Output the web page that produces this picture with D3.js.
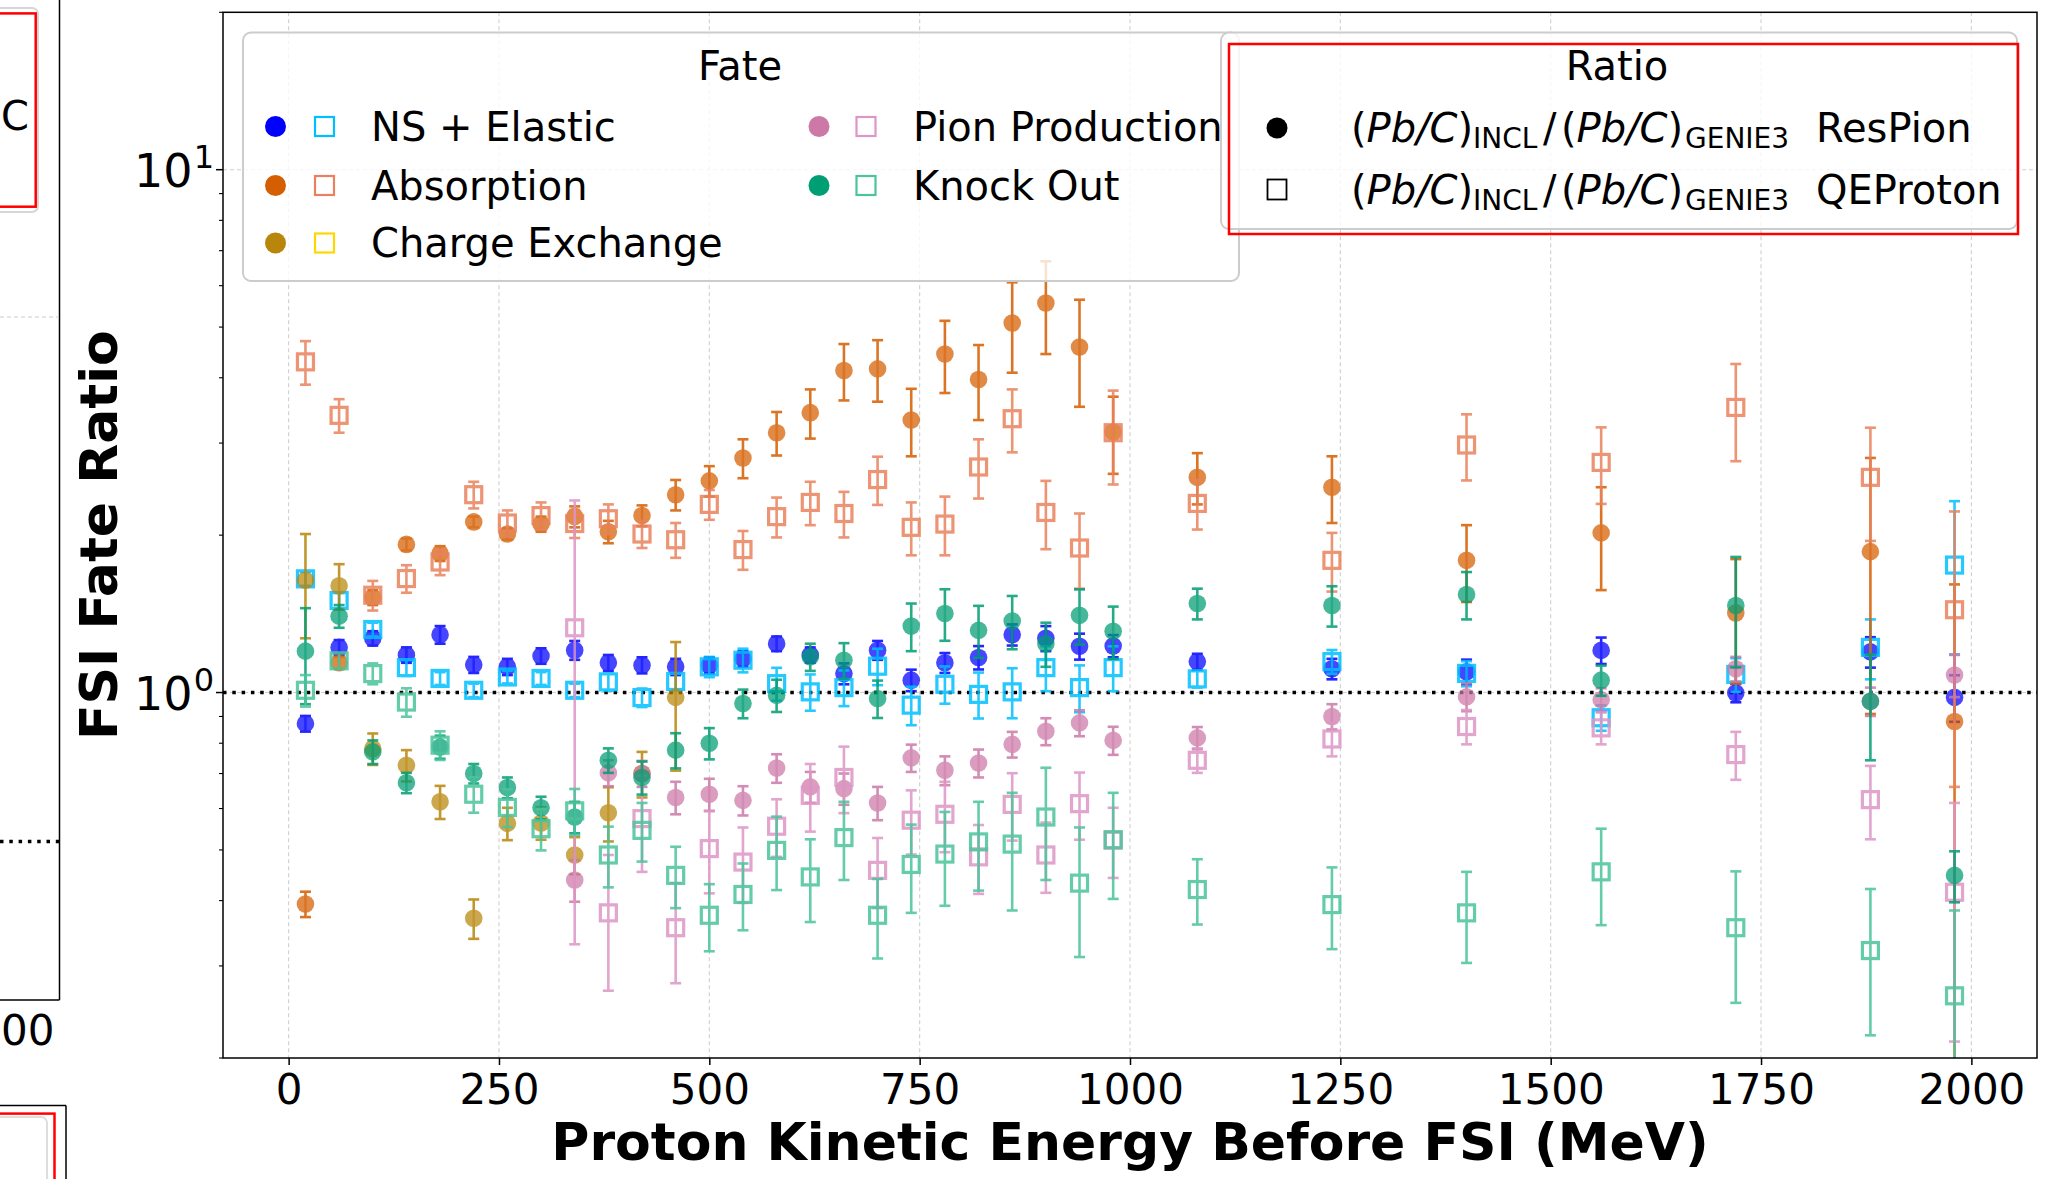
<!DOCTYPE html>
<html>
<head>
<meta charset="utf-8">
<script src="https://cdn.jsdelivr.net/npm/d3@7"></script>
<style>
  html, body { margin: 0; padding: 0; background: #ffffff; }
  svg { display: block; font-family: "DejaVu Sans", sans-serif; }
</style>
</head>
<body>
<svg id="chart" width="2060" height="1179"></svg>
<script>
// Bin centres of the proton kinetic energy before FSI (MeV)
const energy = [20, 60, 100, 140, 180, 220, 260, 300, 340, 380, 420, 460, 500, 540, 580, 620, 660,
                700, 740, 780, 820, 860, 900, 940, 980, 1080, 1240, 1400, 1560, 1720, 1880, 1980];

// (Pb/C)_INCL / (Pb/C)_GENIE3 ratios, ResPion sample (filled circles)
const nsResPion = [0.872, 1.22, 1.27, 1.18, 1.29, 1.13, 1.12, 1.175, 1.205, 1.14, 1.128, 1.12, 1.128, 1.16, 1.24, 1.18, 1.087,
                   1.205, 1.056, 1.14, 1.167, 1.29, 1.27, 1.226, 1.228, 1.146, 1.11, 1.096, 1.204, 0.998, 1.196, 0.979];
const nsResPionErr = [0.03, 0.04, 0.04, 0.04, 0.05, 0.04, 0.04, 0.04, 0.05, 0.04, 0.04, 0.04, 0.04, 0.04, 0.04, 0.04, 0.05,
                      0.05, 0.05, 0.05, 0.06, 0.06, 0.07, 0.07, 0.06, 0.04, 0.05, 0.06, 0.07, 0.04, 0.08, 0.1];
const absResPion = [0.394, 1.14, 1.52, 1.92, 1.845, 2.12, 2.01, 2.10, 2.17, 2.03, 2.18, 2.39, 2.54, 2.81, 3.14, 3.43, 4.13,
                    4.16, 3.32, 4.44, 3.97, 5.09, 5.56, 4.58, 3.15, 2.58, 2.47, 1.79, 2.02, 1.42, 1.86, 0.88];
const absResPionErr = [0.022, 0.03, 0.05, 0.05, 0.06, 0.05, 0.05, 0.07, 0.1, 0.1, 0.1, 0.16, 0.17, 0.24, 0.3, 0.37, 0.51,
                       0.56, 0.49, 0.7, 0.65, 1.0, 1.12, 1.06, 0.53, 0.29, 0.36, 0.3, 0.45, 0.38, 0.95, 0.73];
const cexResPion = [1.64, 1.60, 0.781, 0.726, 0.618, 0.370, 0.562, 0.563, 0.489, 0.589, 0.70, 0.979, null, null, null, null, null,
                    null, null, null, null, null, null, null, null, null, null, null, null, null, null, null];
const cexResPionErr = [0.37, 0.16, 0.054, 0.05, 0.045, 0.032, 0.04, 0.04, 0.04, 0.07, 0.07, 0.27, null, null, null, null, null,
                       null, null, null, null, null, null, null, null, null, null, null, null, null, null, null];
const pionResPion = [null, null, null, null, null, null, null, null, 0.438, 0.702, 0.70, 0.63, 0.639, 0.622, 0.717, 0.66, 0.655,
                     0.615, 0.75, 0.71, 0.733, 0.796, 0.843, 0.875, 0.81, 0.819, 0.90, 0.981, 0.969, 1.11, 0.962, 1.08];
const pionResPionErr = [null, null, null, null, null, null, null, null, 0.04, 0.04, 0.04, 0.045, 0.045, 0.04, 0.045, 0.045, 0.045,
                        0.045, 0.045, 0.045, 0.045, 0.045, 0.05, 0.05, 0.05, 0.04, 0.05, 0.06, 0.05, 0.06, 0.06, 0.1];
const koResPion = [1.20, 1.40, 0.77, 0.672, 0.787, 0.70, 0.658, 0.602, 0.578, 0.742, 0.688, 0.776, 0.80, 0.953, 0.988, 1.17, 1.153,
                   0.974, 1.34, 1.416, 1.315, 1.37, 1.24, 1.405, 1.31, 1.48, 1.467, 1.54, 1.056, 1.467, 0.962, 0.447];
const koResPionErr = [0.25, 0.07, 0.04, 0.03, 0.04, 0.03, 0.03, 0.03, 0.04, 0.04, 0.05, 0.06, 0.055, 0.06, 0.07, 0.07, 0.09,
                      0.08, 0.14, 0.16, 0.15, 0.16, 0.12, 0.17, 0.15, 0.1, 0.13, 0.16, 0.07, 0.35, 0.22, 0.05];

// Same ratio for the QEProton sample (open squares)
const nsQEProton = [1.65, 1.50, 1.32, 1.116, 1.064, 1.01, 1.071, 1.064, 1.01, 1.048, 0.978, 1.05, 1.12, 1.153, 1.04, 1.003, 1.022,
                    1.123, 0.946, 1.037, 0.992, 1.003, 1.116, 1.022, 1.116, 1.062, 1.146, 1.088, 0.895, 1.083, 1.22, 1.753];
const nsQEProtonErr = [0.05, 0.05, 0.04, 0.04, 0.03, 0.03, 0.03, 0.03, 0.03, 0.04, 0.04, 0.04, 0.05, 0.06, 0.075, 0.08, 0.08,
                       0.09, 0.08, 0.085, 0.1, 0.11, 0.11, 0.105, 0.11, 0.04, 0.06, 0.06, 0.05, 0.08, 0.16, 0.57];
const absQEProton = [4.29, 3.39, 1.535, 1.652, 1.777, 2.39, 2.11, 2.18, 2.105, 2.15, 2.01, 1.96, 2.29, 1.877, 2.17, 2.31, 2.20,
                     2.555, 2.07, 2.10, 2.70, 3.34, 2.21, 1.89, 3.14, 2.30, 1.79, 2.975, 2.755, 3.51, 2.58, 1.44];
const absQEProtonErr = [0.41, 0.25, 0.1, 0.1, 0.1, 0.14, 0.12, 0.13, 0.13, 0.14, 0.12, 0.15, 0.15, 0.16, 0.19, 0.22, 0.22,
                        0.27, 0.24, 0.27, 0.35, 0.46, 0.33, 0.31, 0.64, 0.25, 0.23, 0.43, 0.46, 0.74, 0.63, 0.78];
const cexQEProton = energy.map(() => null);
const cexQEProtonErr = energy.map(() => null);
const pionQEProton = [null, null, null, null, null, null, null, null, 1.33, 0.379, 0.574, 0.355, 0.503, 0.474, 0.555, 0.636, 0.688,
                      0.457, 0.57, 0.585, 0.485, 0.611, 0.489, 0.613, 0.522, 0.742, 0.815, 0.861, 0.856, 0.761, 0.624, 0.415];
const pionQEProtonErr = [null, null, null, null, null, null, null, null, 1.0, 0.11, 0.12, 0.077, 0.09, 0.078, 0.07, 0.094, 0.1,
                         0.07, 0.08, 0.09, 0.073, 0.09, 0.075, 0.09, 0.08, 0.04, 0.06, 0.065, 0.06, 0.08, 0.1, 0.2];
const koQEProton = [1.01, 1.15, 1.087, 0.959, 0.793, 0.639, 0.603, 0.549, 0.594, 0.489, 0.545, 0.447, 0.375, 0.411, 0.499, 0.444, 0.528,
                    0.375, 0.469, 0.491, 0.518, 0.513, 0.578, 0.432, 0.523, 0.42, 0.393, 0.379, 0.454, 0.355, 0.321, 0.263];
const koQEProtonErr = [0.07, 0.04, 0.05, 0.06, 0.05, 0.05, 0.05, 0.05, 0.06, 0.065, 0.07, 0.06, 0.055, 0.06, 0.08, 0.08, 0.09,
                       0.065, 0.09, 0.1, 0.1, 0.13, 0.14, 0.12, 0.12, 0.06, 0.07, 0.075, 0.095, 0.1, 0.1, 0.12];

// Axis ticks
const xTicks = [0, 250, 500, 750, 1000, 1250, 1500, 1750, 2000];
const yMajorTicks = [1, 10];
const yMajorLabels = [["10", "0"], ["10", "1"]];
const yMinorTicks = [0.2, 0.3, 0.4, 0.5, 0.6, 0.7, 0.8, 0.9, 2, 3, 4, 5, 6, 7, 8, 9, 20];

// Fates and their colours (circle = ResPion, square = QEProton)
const fates = ["NS + Elastic", "Absorption", "Charge Exchange", "Pion Production", "Knock Out"];
const circleColors = ["#0000ff", "#d55e00", "#b8860b", "#cc79a7", "#009e73"];
const squareColors = ["#00bfff", "#e9825c", "#ffd700", "#de96c6", "#4bc49c"];
const resPionSets = [[nsResPion, nsResPionErr], [absResPion, absResPionErr], [cexResPion, cexResPionErr],
                     [pionResPion, pionResPionErr], [koResPion, koResPionErr]];
const qeProtonSets = [[nsQEProton, nsQEProtonErr], [absQEProton, absQEProtonErr], [cexQEProton, cexQEProtonErr],
                      [pionQEProton, pionQEProtonErr], [koQEProton, koQEProtonErr]];

const svg = d3.select("#chart");
const plot = { left: 223, right: 2037, top: 12.3, bottom: 1058 };

const x = d3.scaleLinear().domain([-78, 2078]).range([plot.left, plot.right]);
const y = d3.scaleLog().domain([0.2, 20]).range([plot.bottom, plot.top]);

svg.append("defs").append("clipPath").attr("id", "plotClip")
  .append("rect").attr("x", plot.left).attr("y", plot.top)
  .attr("width", plot.right - plot.left).attr("height", plot.bottom - plot.top);

// ---- neighbouring panel edges on the left ----
const side = svg.append("g");
side.append("line").attr("x1", 59.5).attr("x2", 59.5).attr("y1", 0).attr("y2", 1000)
  .attr("stroke", "#000").attr("stroke-width", 1.5);
side.append("line").attr("x1", 0).attr("x2", 59.5).attr("y1", 1000).attr("y2", 1000)
  .attr("stroke", "#000").attr("stroke-width", 1.5);
side.append("line").attr("x1", 0).attr("x2", 59).attr("y1", 317).attr("y2", 317)
  .attr("stroke", "#cccccc").attr("stroke-width", 1).attr("stroke-dasharray", "4 3");
side.append("line").attr("x1", 0).attr("x2", 59).attr("y1", 841.6).attr("y2", 841.6)
  .attr("stroke", "#000").attr("stroke-width", 3.5).attr("stroke-dasharray", "3.5 5.8");
side.append("rect").attr("x", -20).attr("y", 8).attr("width", 58).attr("height", 204).attr("rx", 6)
  .attr("fill", "#fff").attr("stroke", "#d6d6d6").attr("stroke-width", 2);
side.append("rect").attr("x", -20).attr("y", 13.4).attr("width", 55.7).attr("height", 193.3)
  .attr("fill", "none").attr("stroke", "#ff0000").attr("stroke-width", 2.5);
side.append("text").attr("x", 1).attr("y", 130).attr("font-size", 40).text("C");
side.append("text").attr("x", 1).attr("y", 1045).attr("font-size", 42).text("00");
side.append("line").attr("x1", 66).attr("x2", 66).attr("y1", 1105.6).attr("y2", 1179)
  .attr("stroke", "#000").attr("stroke-width", 1.5);
side.append("line").attr("x1", 0).attr("x2", 66).attr("y1", 1105.6).attr("y2", 1105.6)
  .attr("stroke", "#000").attr("stroke-width", 1.5);
side.append("rect").attr("x", -20).attr("y", 1117).attr("width", 67).attr("height", 100).attr("rx", 6)
  .attr("fill", "#fff").attr("stroke", "#dddddd").attr("stroke-width", 2);
side.append("rect").attr("x", -20).attr("y", 1113.6).attr("width", 74.5).attr("height", 100)
  .attr("fill", "none").attr("stroke", "#ff0000").attr("stroke-width", 2.5);

// ---- grid ----
const grid = svg.append("g");
grid.selectAll("line.vgrid").data(xTicks).join("line").attr("class", "vgrid")
  .attr("x1", d => x(d)).attr("x2", d => x(d)).attr("y1", plot.top).attr("y2", plot.bottom)
  .attr("stroke", "#cfcfcf").attr("stroke-width", 1.1).attr("stroke-dasharray", "4 3");
grid.selectAll("line.hgrid").data(yMajorTicks).join("line").attr("class", "hgrid")
  .attr("x1", plot.left).attr("x2", plot.right).attr("y1", d => y(d)).attr("y2", d => y(d))
  .attr("stroke", "#cfcfcf").attr("stroke-width", 1.1).attr("stroke-dasharray", "4 3");

// ratio = 1 reference
svg.append("line").attr("x1", plot.left).attr("x2", plot.right).attr("y1", y(1)).attr("y2", y(1))
  .attr("stroke", "#000").attr("stroke-width", 3.5).attr("stroke-dasharray", "3.5 5.8");

// ---- data ----
const dataLayer = svg.append("g").attr("clip-path", "url(#plotClip)");
const capHalf = 5.5;
const yLow = v => (v <= 0.15 ? 0.15 : v);

function drawSeries(vals, errs, color, kind) {
  const pts = energy.map((e, i) => ({ e, v: vals[i], err: errs[i] })).filter(d => d.v != null);
  const g = dataLayer.append("g").attr("opacity", 0.85);
  g.selectAll("line.bar").data(pts).join("line").attr("class", "bar")
    .attr("x1", d => x(d.e)).attr("x2", d => x(d.e))
    .attr("y1", d => y(yLow(d.v - d.err))).attr("y2", d => y(d.v + d.err))
    .attr("stroke", color).attr("stroke-width", 2.6);
  g.selectAll("line.capHi").data(pts).join("line").attr("class", "capHi")
    .attr("x1", d => x(d.e) - capHalf).attr("x2", d => x(d.e) + capHalf)
    .attr("y1", d => y(d.v + d.err)).attr("y2", d => y(d.v + d.err))
    .attr("stroke", color).attr("stroke-width", 2.6);
  g.selectAll("line.capLo").data(pts.filter(d => d.v - d.err > 0.15)).join("line").attr("class", "capLo")
    .attr("x1", d => x(d.e) - capHalf).attr("x2", d => x(d.e) + capHalf)
    .attr("y1", d => y(d.v - d.err)).attr("y2", d => y(d.v - d.err))
    .attr("stroke", color).attr("stroke-width", 2.6);
  if (kind === "circle") {
    g.selectAll("circle").data(pts).join("circle")
      .attr("cx", d => x(d.e)).attr("cy", d => y(d.v)).attr("r", 8.8)
      .attr("fill", color).attr("fill-opacity", 0.85);
  } else {
    g.selectAll("rect").data(pts).join("rect")
      .attr("x", d => x(d.e) - 8).attr("y", d => y(d.v) - 8)
      .attr("width", 16).attr("height", 16)
      .attr("fill", "none").attr("stroke", color).attr("stroke-width", 3.2);
  }
}

fates.forEach((f, i) => {
  drawSeries(resPionSets[i][0], resPionSets[i][1], circleColors[i], "circle");
  drawSeries(qeProtonSets[i][0], qeProtonSets[i][1], squareColors[i], "square");
});

// ---- axes ----
const frame = svg.append("g");
frame.append("rect").attr("x", plot.left).attr("y", plot.top)
  .attr("width", plot.right - plot.left).attr("height", plot.bottom - plot.top)
  .attr("fill", "none").attr("stroke", "#000").attr("stroke-width", 1.5);

const xAxis = svg.append("g").attr("transform", `translate(0,${plot.bottom})`)
  .call(d3.axisBottom(x).tickValues(xTicks).tickSize(7).tickPadding(9).tickFormat(d3.format("d")));
xAxis.select(".domain").remove();
xAxis.selectAll(".tick line").attr("stroke-width", 1.5);
xAxis.selectAll(".tick text").attr("font-size", 42).attr("font-family", "DejaVu Sans").attr("fill", "#000");

const yAxis = svg.append("g").attr("transform", `translate(${plot.left},0)`);
yAxis.selectAll("line.major").data(yMajorTicks).join("line").attr("class", "major")
  .attr("x1", -7).attr("x2", 0).attr("y1", d => y(d)).attr("y2", d => y(d))
  .attr("stroke", "#000").attr("stroke-width", 1.5);
yAxis.selectAll("line.minor").data(yMinorTicks).join("line").attr("class", "minor")
  .attr("x1", -4).attr("x2", 0).attr("y1", d => y(d)).attr("y2", d => y(d))
  .attr("stroke", "#000").attr("stroke-width", 1.1);
yMajorTicks.forEach((t, i) => {
  const lbl = yAxis.append("text").attr("x", -9).attr("y", y(t) + 17)
    .attr("text-anchor", "end").attr("font-size", 46);
  lbl.append("tspan").text(yMajorLabels[i][0]);
  lbl.append("tspan").attr("dy", -19).attr("dx", 1).attr("font-size", 32).text(yMajorLabels[i][1]);
});

svg.append("text").attr("x", (plot.left + plot.right) / 2).attr("y", 1160)
  .attr("text-anchor", "middle").attr("font-size", 52).attr("font-weight", "bold")
  .text("Proton Kinetic Energy Before FSI (MeV)");
svg.append("text").attr("transform", `translate(117,${(plot.top + plot.bottom) / 2}) rotate(-90)`)
  .attr("text-anchor", "middle").attr("font-size", 52).attr("font-weight", "bold")
  .text("FSI Fate Ratio");

// ---- Fate legend ----
const fateLegend = svg.append("g");
fateLegend.append("rect").attr("x", 243).attr("y", 32.5).attr("width", 996).attr("height", 248.5).attr("rx", 8)
  .attr("fill", "#ffffff").attr("fill-opacity", 0.8).attr("stroke", "#cccccc").attr("stroke-width", 2);
fateLegend.append("text").attr("x", 740).attr("y", 80).attr("text-anchor", "middle")
  .attr("font-size", 40).text("Fate");
const legendCols = [{ circle: 275.5, square: 324.5, text: 371 }, { circle: 819, square: 866, text: 913 }];
const legendRows = [126.5, 185.5, 243];
fates.forEach((f, i) => {
  const col = legendCols[i < 3 ? 0 : 1];
  const cy = legendRows[i < 3 ? i : i - 3];
  fateLegend.append("circle").attr("cx", col.circle).attr("cy", cy).attr("r", 10.5).attr("fill", circleColors[i]);
  fateLegend.append("rect").attr("x", col.square - 9.5).attr("y", cy - 9.5).attr("width", 19).attr("height", 19)
    .attr("fill", "none").attr("stroke", squareColors[i]).attr("stroke-width", 2.2);
  fateLegend.append("text").attr("x", col.text).attr("y", cy + 14).attr("font-size", 40).text(f);
});

// ---- Ratio legend ----
const ratioSamples = ["ResPion", "QEProton"];
const ratioLegend = svg.append("g");
ratioLegend.append("rect").attr("x", 1221).attr("y", 32.5).attr("width", 796).attr("height", 196.5).attr("rx", 8)
  .attr("fill", "#ffffff").attr("fill-opacity", 0.8).attr("stroke", "#cccccc").attr("stroke-width", 2);
ratioLegend.append("text").attr("x", 1617).attr("y", 80).attr("text-anchor", "middle")
  .attr("font-size", 40).text("Ratio");
const ratioRows = [128, 189.5];

function pbOverC(g, x0, base) {
  const t = g.append("text").attr("x", x0).attr("y", base).attr("font-size", 40);
  t.append("tspan").text("(");
  t.append("tspan").attr("font-style", "italic").text("Pb");
  t.append("tspan").attr("font-style", "italic").text("/");
  t.append("tspan").attr("font-style", "italic").text("C");
  t.append("tspan").text(")");
}
ratioSamples.forEach((s, i) => {
  const cy = ratioRows[i];
  const base = cy + 14;
  if (i === 0) {
    ratioLegend.append("circle").attr("cx", 1277).attr("cy", cy).attr("r", 10.5).attr("fill", "#000");
  } else {
    ratioLegend.append("rect").attr("x", 1267.5).attr("y", cy - 10).attr("width", 19).attr("height", 20)
      .attr("fill", "none").attr("stroke", "#000").attr("stroke-width", 1.8);
  }
  pbOverC(ratioLegend, 1351, base);
  ratioLegend.append("text").attr("x", 1473).attr("y", base + 6).attr("font-size", 28).text("INCL");
  ratioLegend.append("text").attr("x", 1543).attr("y", base).attr("font-size", 40).text("/");
  pbOverC(ratioLegend, 1561, base);
  ratioLegend.append("text").attr("x", 1685).attr("y", base + 6).attr("font-size", 28).text("GENIE3");
  ratioLegend.append("text").attr("x", 1816).attr("y", base).attr("font-size", 40).text(s);
});
ratioLegend.append("rect").attr("x", 1229).attr("y", 44).attr("width", 789).attr("height", 190)
  .attr("fill", "none").attr("stroke", "#ff0000").attr("stroke-width", 2.5);
</script>
</body>
</html>
